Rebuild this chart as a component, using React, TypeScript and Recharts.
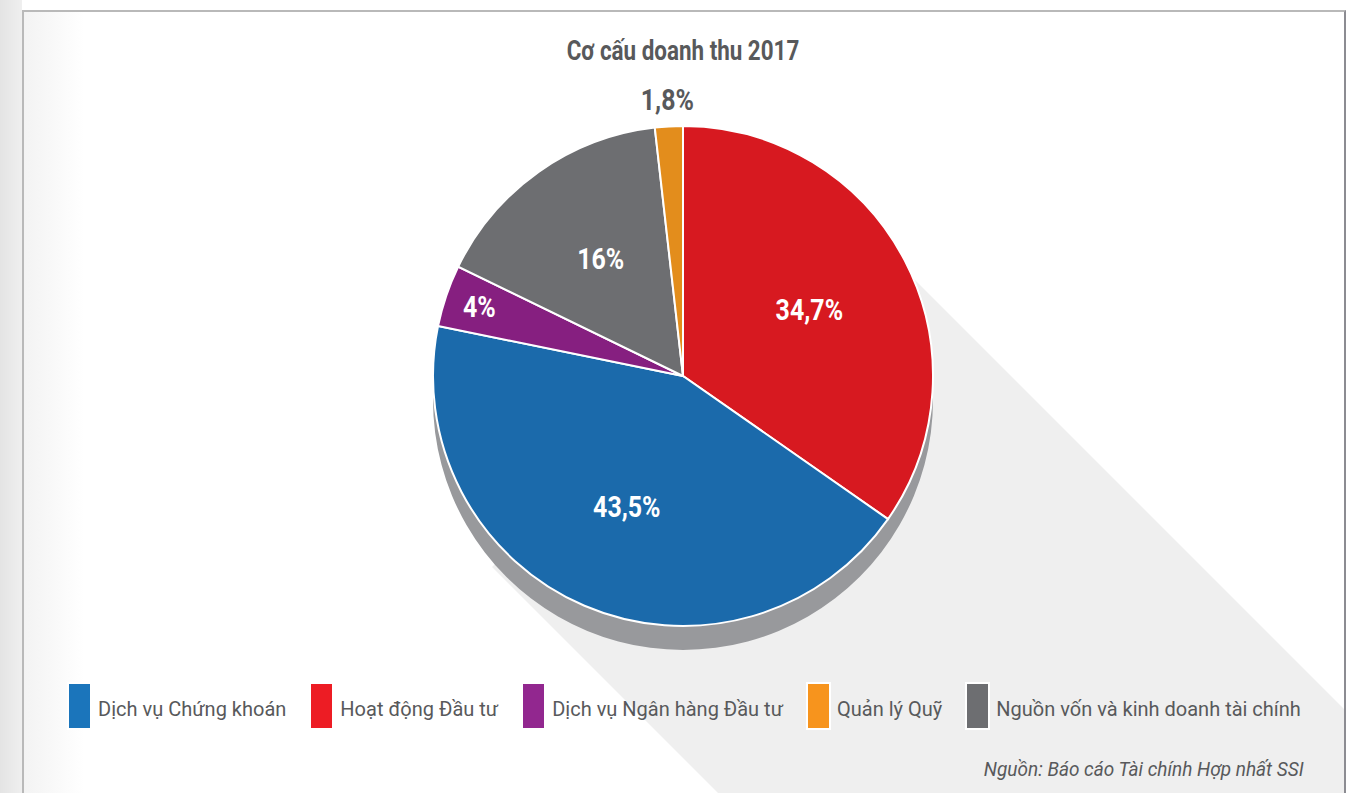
import { Cell, Legend, Pie, PieChart } from "recharts"

// thứ tự lát bánh theo chiều kim đồng hồ, bắt đầu từ 12 giờ
const segments = ["Hoạt động Đầu tư", "Dịch vụ Chứng khoán", "Dịch vụ Ngân hàng Đầu tư", "Nguồn vốn và kinh doanh tài chính", "Quản lý Quỹ"]
const shares = [34.7, 43.5, 4, 16, 1.8]
const sliceColors = ["#d71920", "#1b6aab", "#861f80", "#6d6e71", "#e38d1c"]

// thứ tự chú thích
const legendOrder = ["Dịch vụ Chứng khoán", "Hoạt động Đầu tư", "Dịch vụ Ngân hàng Đầu tư", "Quản lý Quỹ", "Nguồn vốn và kinh doanh tài chính"]
const legendColors = ["#1b75bb", "#ed1c24", "#92278f", "#f7941d", "#6d6e71"]

const title = "Cơ cấu doanh thu 2017"
const source = "Nguồn: Báo cáo Tài chính Hợp nhất SSI"

const chartData = segments.map((name, i) => ({ name, value: shares[i] }))

const CX = 683
const CY = 376
const R = 250
const font = "Roboto, 'Liberation Sans', sans-serif"
const textGrey = "#58595b"

const renderLabel = (props: any) => {
    const { cx, cy, midAngle, outerRadius, percent, value } = props
    const RAD = Math.PI / 180
    let r = outerRadius * 0.57
    let fill = "#ffffff"
    if (percent < 0.03) {
        r = outerRadius + 26
        fill = textGrey
    } else if (percent < 0.05) {
        r = outerRadius * 0.86
    }
    const x = cx + r * Math.cos(-midAngle * RAD)
    const y = cy + r * Math.sin(-midAngle * RAD)
    return (
        <text
            transform={`translate(${x},${y}) scale(0.86,1)`}
            fill={fill}
            textAnchor="middle"
            dominantBaseline="central"
            style={{ fontFamily: font, fontWeight: 700, fontSize: 29 }}
        >
            {String(value).replace(".", ",")}%
        </text>
    )
}

const renderLegend = () => (
    <div style={{ display: "flex", justifyContent: "center", alignItems: "center", gap: 25 }}>
        {legendOrder.map((name, i) => (
            <div key={name} style={{ display: "flex", alignItems: "center" }}>
                <span
                    style={{
                        display: "inline-block",
                        width: 21,
                        height: 44,
                        background: legendColors[i],
                        outline: "2px solid #ffffff",
                        marginRight: 8,
                    }}
                />
                <span style={{ fontFamily: font, fontSize: 20, color: textGrey, paddingTop: 5 }}>{name}</span>
            </div>
        ))}
    </div>
)

export default function App() {
    return (
        <div style={{ position: "absolute", left: 0, top: 0, width: 1360, height: 793, overflow: "hidden", background: "#ffffff" }}>
            {/* dải xám bên trái trang */}
            <div style={{ position: "absolute", left: 0, top: 0, width: 22, height: 793, background: "linear-gradient(to right, #e4e4e4, #efefef)" }} />
            {/* khung trắng */}
            <div
                style={{
                    position: "absolute",
                    left: 22,
                    top: 10,
                    width: 1320,
                    height: 800,
                    borderTop: "2px solid #b9b9b9",
                    borderLeft: "2px solid #b9b9b9",
                    borderRight: "2px solid #8c8c92",
                    overflow: "hidden",
                    background: "linear-gradient(to right, #f3f3f3 0px, #ffffff 60px)",
                }}
            >
                <svg width={1320} height={800} style={{ position: "absolute", left: 0, top: 0 }}>
                    {/* bóng đổ dài chéo */}
                    <polygon points="823,200 468,555 1440,1527 1795,1172" fill="#efefef" />
                </svg>
            </div>
            <div
                style={{
                    position: "absolute",
                    left: 0,
                    top: 34,
                    width: 1366,
                    textAlign: "center",
                    fontFamily: font,
                    fontWeight: 700,
                    fontSize: 28,
                    color: textGrey,
                    transform: "scaleX(0.8)",
                    transformOrigin: "683px 0",
                }}
            >
                {title}
            </div>
            <div style={{ position: "absolute", left: 0, top: 0 }}>
                <PieChart width={1360} height={793} margin={{ top: 0, right: 0, bottom: 0, left: 0 }}>
                    {/* mặt bên 3D */}
                    <Pie
                        data={[{ name: "rim", value: 1 }]}
                        dataKey="value"
                        cx={CX}
                        cy={CY + 24}
                        outerRadius={R}
                        fill="#98999c"
                        stroke="none"
                        isAnimationActive={false}
                        legendType="none"
                    />
                    <Pie
                        data={chartData}
                        dataKey="value"
                        nameKey="name"
                        cx={CX}
                        cy={CY}
                        outerRadius={R}
                        startAngle={90}
                        endAngle={-270}
                        stroke="#ffffff"
                        strokeWidth={2}
                        label={renderLabel}
                        labelLine={false}
                        isAnimationActive={false}
                    >
                        {chartData.map((d, i) => (
                            <Cell key={d.name} fill={sliceColors[i]} />
                        ))}
                    </Pie>
                    <Legend
                        content={renderLegend}
                        wrapperStyle={{ position: "absolute", top: 684, left: 0, width: 1370 }}
                    />
                </PieChart>
            </div>
            <div
                style={{
                    position: "absolute",
                    right: 56,
                    top: 757,
                    fontFamily: font,
                    fontStyle: "italic",
                    fontSize: 20,
                    color: textGrey,
                    transform: "scaleX(0.95)",
                    transformOrigin: "100% 0",
                }}
            >
                {source}
            </div>
        </div>
    )
}
